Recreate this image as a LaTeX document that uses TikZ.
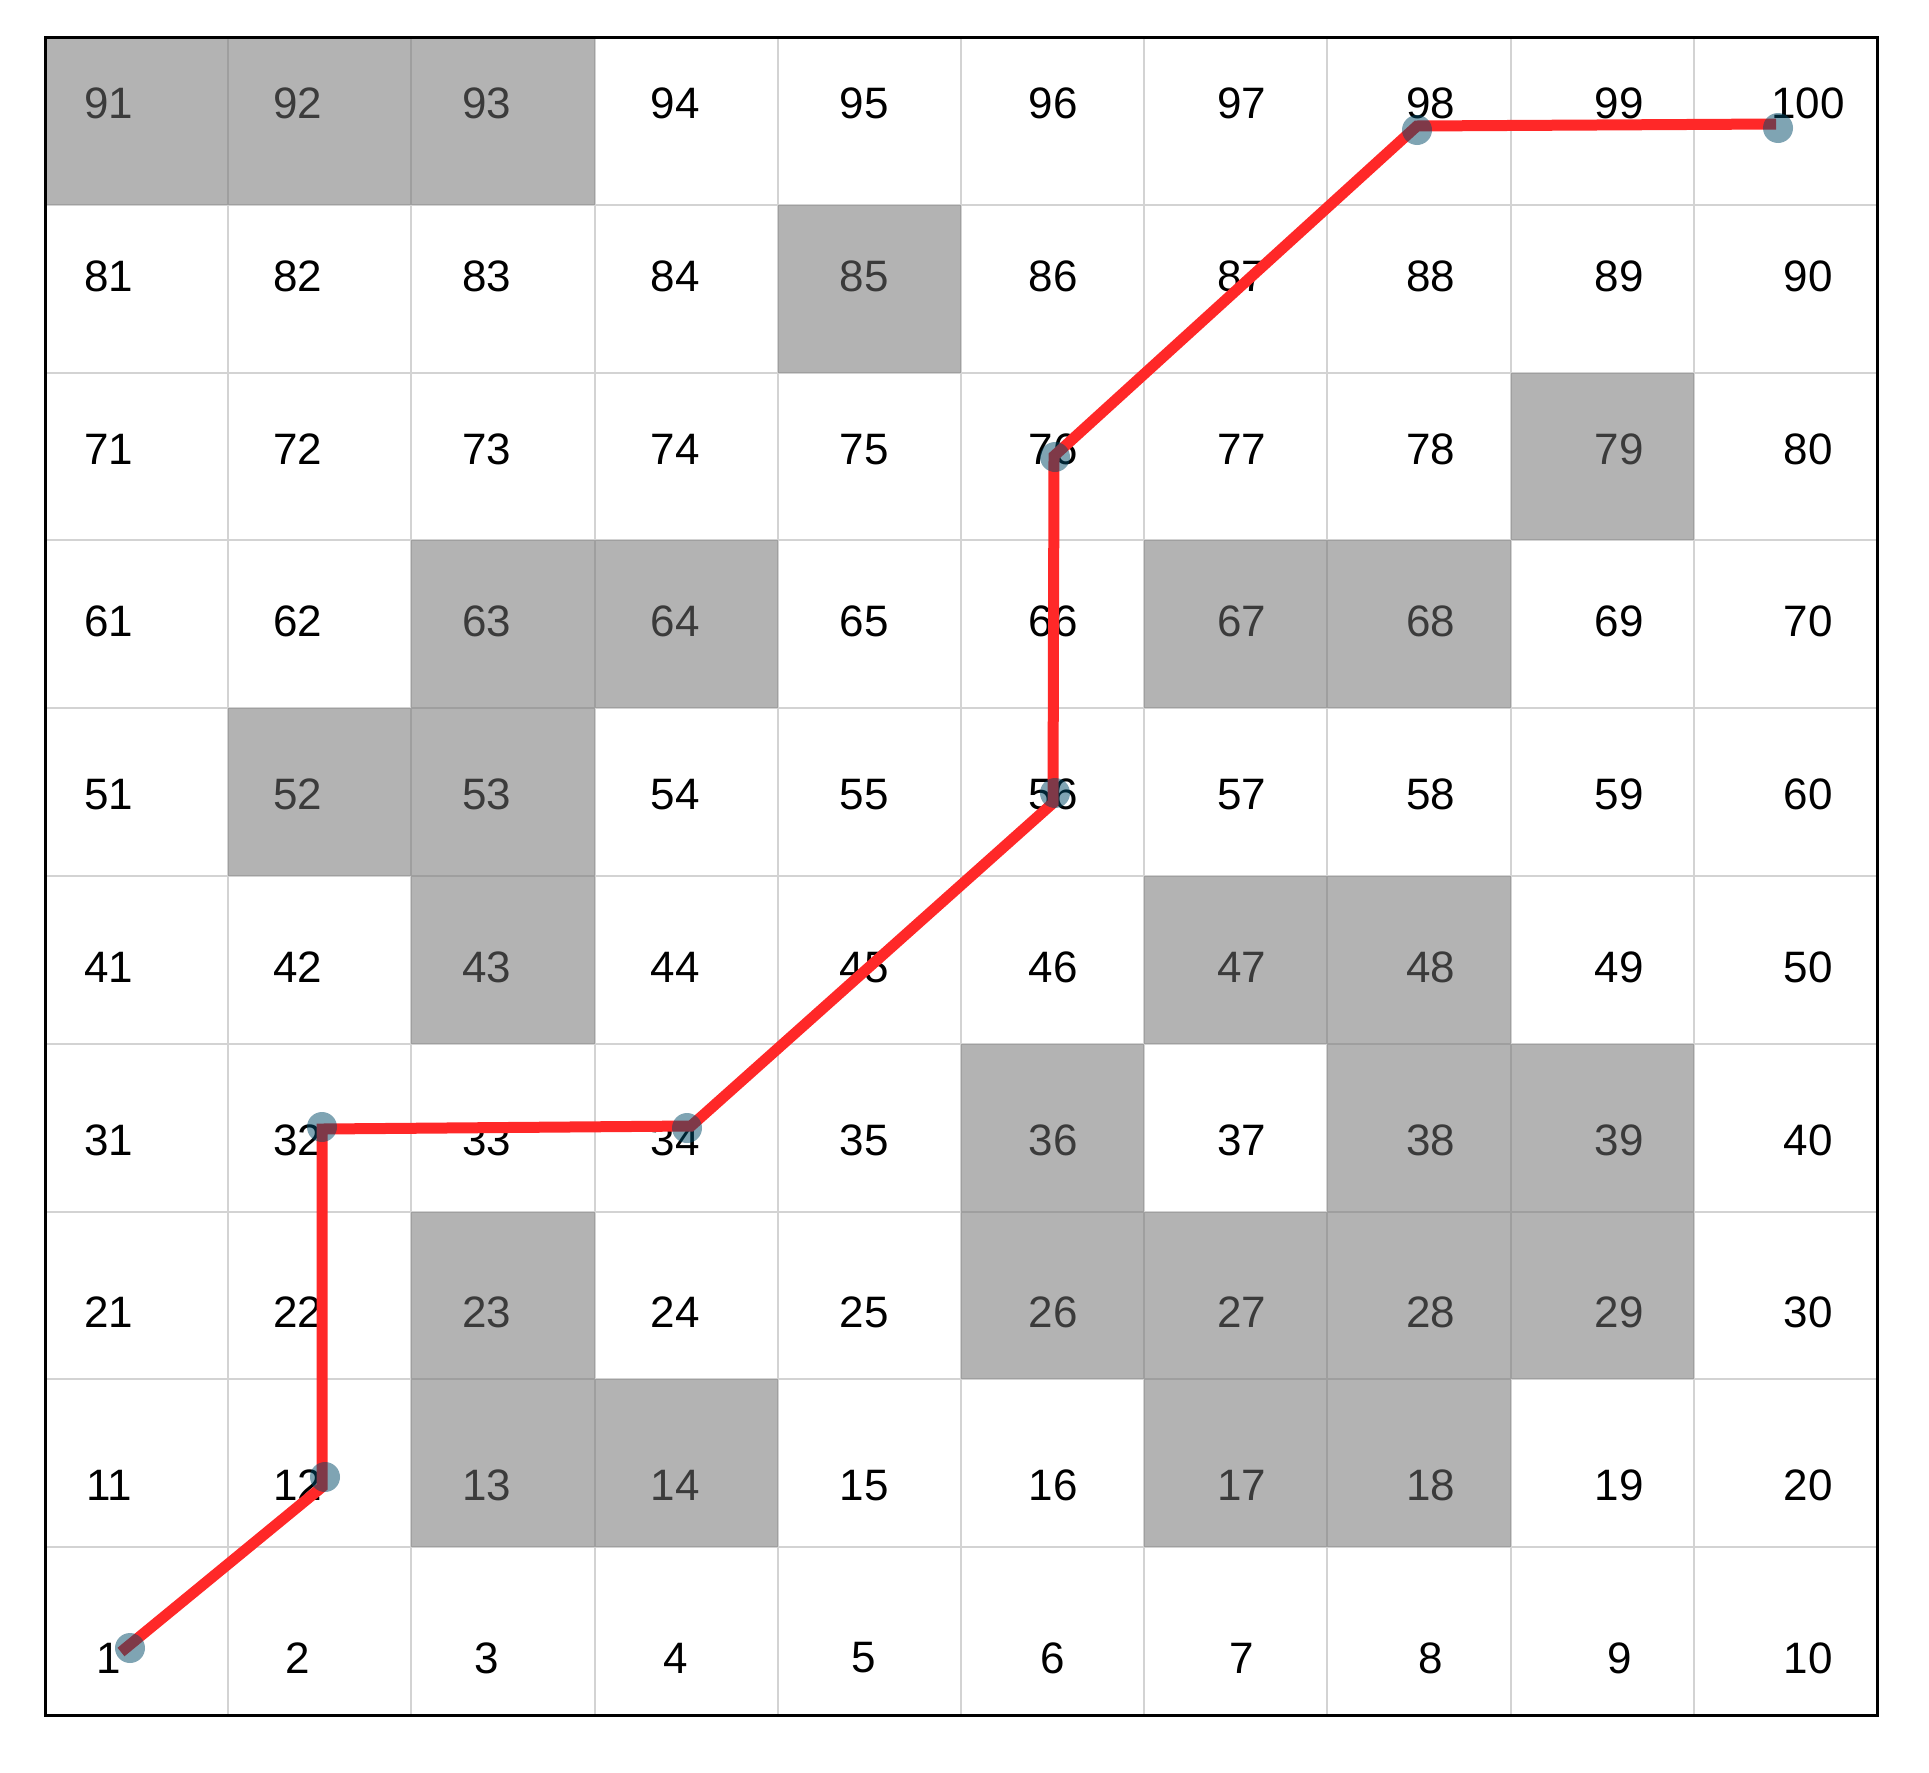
\documentclass[tikz,border=0pt]{standalone}
\usepackage{fontspec}
\setmainfont{Liberation Sans}
\definecolor{gridgray}{RGB}{211,211,211}
\definecolor{shade}{RGB}{113,113,113}
\definecolor{pathred}{RGB}{255,40,40}
\definecolor{dotblue}{RGB}{0,75,105}
\tikzset{
  gridline/.style={draw=gridgray, line width=2pt},
  numlabel/.style={inner sep=0pt, font=\fontsize{44}{50}\selectfont},
  blocked/.style={fill=shade, fill opacity=0.53},
  route/.style={draw=pathred, line width=11pt},
  waypoint/.style={fill=dotblue, fill opacity=0.5},
  outerframe/.style={draw=black, line width=3pt}
}
\begin{document}
\begin{tikzpicture}[x=1pt,y=-1pt]
\useasboundingbox[fill=white] (0,0) rectangle (1929,1772);
% grid
\foreach \i in {1,...,9} {
  \draw[gridline] ({45+183.2*\i},37) -- ({45+183.2*\i},1715);
  \draw[gridline] (45,{37+167.8*\i}) -- (1877,{37+167.8*\i});
}
% labels
\foreach \n in {1,...,100} {
  \pgfmathtruncatemacro\cc{mod(\n-1,10)}
  \pgfmathtruncatemacro\rr{div(\n-1,10)}
  \node[numlabel] (c\n) at ({109+188.8*\cc},{1658-172.7*\rr}) {\n};
}
% blocked cells
\foreach \n in {13,14,17,18,23,26,27,28,29,36,38,39,43,47,48,52,53,63,64,67,68,79,85,91,92,93} {
  \pgfmathtruncatemacro\cc{mod(\n-1,10)}
  \pgfmathtruncatemacro\rr{div(\n-1,10)}
  \fill[blocked] ({45+183.2*\cc},{1715-167.8*(\rr+1)}) rectangle ({45+183.2*(\cc+1)},{1715-167.8*\rr});
}
% route vertices
\coordinate (v1) at (121,1652);
\coordinate (v12) at (322,1487);
\coordinate (v32) at (322,1129);
\coordinate (v34) at (691,1126);
\coordinate (v56) at (1053,803);
\coordinate (v76) at (1054,456);
\coordinate (v98) at (1417,126);
\coordinate (v100) at (1776,124);
% waypoints
\coordinate (d1) at (130,1648);
\coordinate (d12) at (325,1477);
\coordinate (d32) at (322,1127);
\coordinate (d34) at (687,1128);
\coordinate (d56) at (1055,793);
\coordinate (d76) at (1055,457);
\coordinate (d98) at (1417,130);
\coordinate (d100) at (1778,128);
\draw[route] (v1) -- (v12) -- (v32) -- (v34) -- (v56) -- (v76) -- (v98) -- (v100);
\foreach \d in {1,12,32,34,56,76,98,100} {
  \fill[waypoint] (d\d) circle (15pt);
}
\draw[outerframe] (45,37) rectangle (1877,1715);
\end{tikzpicture}
\end{document}
